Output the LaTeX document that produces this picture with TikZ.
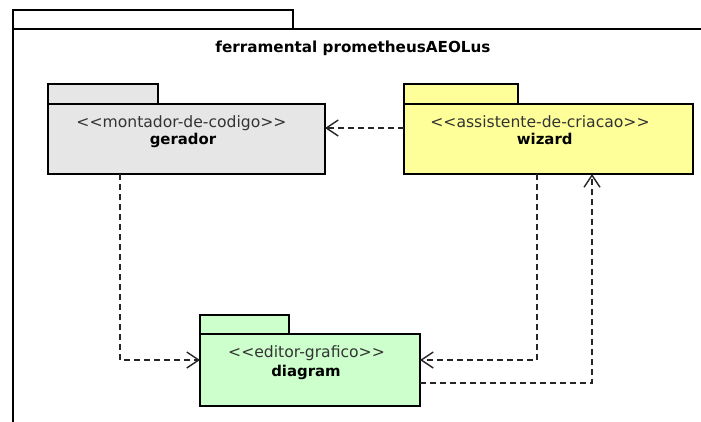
\documentclass[tikz,border=0pt]{standalone}
\usepackage{fontspec}
\setmainfont{DejaVu Sans}
\usetikzlibrary{arrows.meta}
\definecolor{pkggray}{HTML}{E6E6E6}
\definecolor{pkgyellow}{HTML}{FFFF99}
\definecolor{pkggreen}{HTML}{CCFFCC}
\definecolor{stereo}{HTML}{333333}
% guillemet-free stereotype brackets
\newcommand{\stl}{<\kern0pt<}
\newcommand{\str}{>\kern0pt>}
\tikzset{
  pkgline/.style={draw=black, line width=2.8pt},
  pkgbody/.style={pkgline, rectangle, inner sep=0pt, outer sep=0pt},
  stereotxt/.style={anchor=base, inner sep=0pt, text=stereo, font=\fontsize{15.6}{18}\selectfont},
  nametxt/.style={anchor=base, inner sep=0pt, text=black, font=\bfseries\fontsize{14.9}{17}\selectfont},
  dep/.style={draw=black!85, line width=1.4pt, dash pattern=on 6pt off 4pt,
    -{Straight Barb[length=12pt,width=16pt,line width=1.4pt]}},
}
\begin{document}
\begin{tikzpicture}[x=1pt, y=-1pt]
\useasboundingbox (0,0) rectangle (701,421);
\begin{scope}
\clip (0,0) rectangle (701,421);
% outer package frame
\draw[pkgline] (13,10) rectangle (293,29);
\draw[pkgline] (701,29) -- (13,29) -- (13,430);
\end{scope}
\node[anchor=base, inner sep=0pt, font=\bfseries\fontsize{15.2}{18}\selectfont] (title) at (353,52.7) {ferramental prometheusAEOLus};

% gerador
\draw[pkgline, fill=pkggray] (48,84) rectangle (158,104);
\node[pkgbody, fill=pkggray, minimum width=277pt, minimum height=70pt] (g) at (186.5,139) {};
\node[stereotxt] (gs) at (181.5,127) {\stl montador-de-codigo\str};
\node[nametxt] (gn) at (183,144.7) {gerador};

% wizard
\draw[pkgline, fill=pkgyellow] (404,84) rectangle (518,104);
\node[pkgbody, fill=pkgyellow, minimum width=289pt, minimum height=70pt] (w) at (548.5,139) {};
\node[stereotxt] (ws) at (540,127) {\stl assistente-de-criacao\str};
\node[nametxt] (wn) at (544.7,144.7) {wizard};

% diagram
\draw[pkgline, fill=pkggreen] (200,315) rectangle (289,334);
\node[pkgbody, fill=pkggreen, minimum width=220pt, minimum height=72pt] (d) at (310,370) {};
\node[stereotxt] (ds) at (306.5,357.3) {\stl editor-grafico\str};
\node[nametxt] (dn) at (306,376) {diagram};

% dependencies
\draw[dep] ([yshift=11pt]w.west) -- ([yshift=11pt]g.east);
\draw[dep] ([xshift=-66.5pt]g.south) |- ([yshift=10pt]d.west);
\draw[dep] ([xshift=-11.5pt]w.south) |- ([yshift=10pt]d.east);
\draw[dep] ([yshift=-13pt]d.east) -| ([xshift=43.5pt]w.south);
\end{tikzpicture}
\end{document}
